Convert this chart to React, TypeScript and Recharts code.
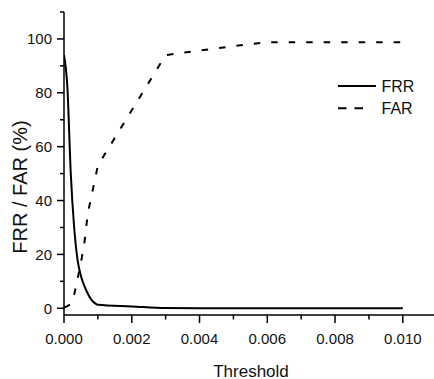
import React from "react";
import { LineChart, Line, XAxis, YAxis } from "recharts";

const thresholds = [0, 0.0001, 0.0002, 0.0003, 0.0004, 0.0005, 0.0006, 0.0007, 0.0008, 0.0009, 0.001, 0.002, 0.003, 0.004, 0.005, 0.006, 0.007, 0.008, 0.009, 0.01];
const frrValues = [94, 82, 50, 30, 18, 12, 8.3, 5.5, 3.3, 2, 1.3, 0.7, 0.1, 0, 0, 0, 0, 0, 0, 0];
const farValues = [0.3, 0.8, 1.5, 5, 11, 17, 24, 35, 41, 47, 53, 73.5, 94, 95.7, 97.3, 98.8, 98.8, 98.8, 98.8, 98.8];
const xTicks = [0, 0.001, 0.002, 0.003, 0.004, 0.005, 0.006, 0.007, 0.008, 0.009, 0.01];
const yTicks = [0, 10, 20, 30, 40, 50, 60, 70, 80, 90, 100, 110];
const seriesNames = ["FRR", "FAR"];

const data = thresholds.map((t, i) => ({ t, FRR: frrValues[i], FAR: farValues[i] }));

const FONT = "'Liberation Sans', Arial, sans-serif";

const XTick = (props: any) => {
  const { x, y, payload } = props;
  const v = payload.value as number;
  const major = Math.round(v * 1000) % 2 === 0;
  return (
    <g>
      <line x1={x} x2={x} y1={y} y2={y + (major ? 8 : 4.5)} stroke="#000" strokeWidth={1.5} />
      {major && (
        <text x={x} y={y + 23} textAnchor="middle" dominantBaseline="central" fontSize={15} fontFamily={FONT} fill="#111">
          {v.toFixed(3)}
        </text>
      )}
    </g>
  );
};

const YTick = (props: any) => {
  const { x, y, payload } = props;
  const v = payload.value as number;
  const major = v % 20 === 0 && v <= 100;
  return (
    <g>
      <line x1={x - (major ? 7 : 4)} x2={x} y1={y} y2={y} stroke="#000" strokeWidth={1.5} />
      {major && (
        <text x={x - 12} y={y} textAnchor="end" dominantBaseline="central" fontSize={15} fontFamily={FONT} fill="#111">
          {v}
        </text>
      )}
    </g>
  );
};

export default function App() {
  return (
    <div style={{ position: "absolute", left: 0, top: 0, width: 434, height: 379, background: "#fff", overflow: "hidden" }}>
      <LineChart width={434} height={379} data={data} margin={{ top: 12, right: 0, bottom: 34, left: 4 }}>
        <XAxis
          dataKey="t"
          type="number"
          domain={[0, 0.01092]}
          ticks={xTicks}
          allowDataOverflow
          height={30}
          tickSize={0}
          tickMargin={0}
          tickLine={false}
          tick={<XTick />}
          axisLine={{ stroke: "#000", strokeWidth: 1.5 }}
          interval={0}
          label={{
            content: () => (
              <text x={251} y={371} textAnchor="middle" dominantBaseline="central" fontSize={17} fontFamily={FONT} fill="#111">
                Threshold
              </text>
            ),
          }}
        />
        <YAxis
          type="number"
          domain={[-2.5, 110]}
          ticks={yTicks}
          allowDataOverflow
          width={60}
          tickSize={0}
          tickMargin={0}
          tickLine={false}
          tick={<YTick />}
          axisLine={{ stroke: "#000", strokeWidth: 1.5 }}
          interval={0}
          label={{
            content: () => (
              <text x={20} y={187} transform="rotate(-90 20 187)" textAnchor="middle" dominantBaseline="central" fontSize={20} fontFamily={FONT} fill="#111">
                FRR / FAR (%)
              </text>
            ),
          }}
        />
        <Line type="monotone" dataKey="FRR" stroke="#000" strokeWidth={2} dot={false} isAnimationActive={false} />
        <Line type="linear" dataKey="FAR" stroke="#000" strokeWidth={2} strokeDasharray="6.5 11" dot={false} isAnimationActive={false} />
      </LineChart>
      <svg width={100} height={50} style={{ position: "absolute", left: 330, top: 70 }}>
        <line x1={8} x2={46} y1={16} y2={16} stroke="#000" strokeWidth={2} />
        <text x={51.5} y={16} dominantBaseline="central" fontSize={16} fontFamily={FONT} fill="#111">{seriesNames[0]}</text>
        <line x1={8} x2={34} y1={38.3} y2={38.3} stroke="#000" strokeWidth={2} strokeDasharray="8.5 8" />
        <text x={51.5} y={38.3} dominantBaseline="central" fontSize={16} fontFamily={FONT} fill="#111">{seriesNames[1]}</text>
      </svg>
    </div>
  );
}
